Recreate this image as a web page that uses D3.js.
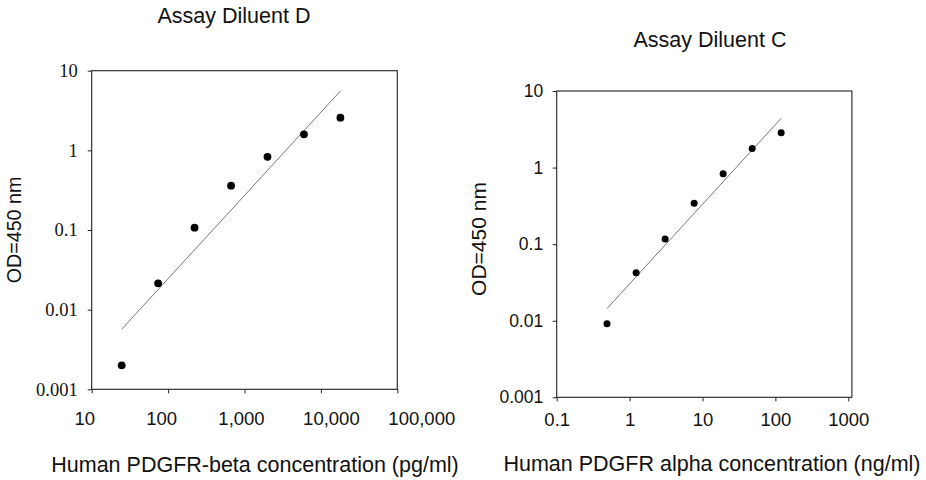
<!DOCTYPE html>
<html>
<head>
<meta charset="utf-8">
<script src="https://cdn.jsdelivr.net/npm/d3@7"></script>
<style>
  body { margin: 0; background: #fff; }
  svg { display: block; }
</style>
</head>
<body>
<div id="chart"></div>
<script>
// Two standard curves, log-log, with least-squares fit line

// Assay Diluent D (PDGFR-beta, pg/ml)
const dConc = [24.7, 74, 222, 667, 2000, 6000, 18000];
const dOD = [0.0020, 0.0214, 0.107, 0.36, 0.83, 1.59, 2.57];
const dConcTicks = [10, 100, 1000, 10000, 100000];

// Assay Diluent C (PDGFR alpha, ng/ml)
const cConc = [0.49, 1.23, 3.07, 7.68, 19.2, 48, 120];
const cOD = [0.0091, 0.0424, 0.117, 0.341, 0.83, 1.78, 2.85];
const cConcTicks = [0.1, 1, 10, 100, 1000];

const odTicks = [0.001, 0.01, 0.1, 1, 10];

const width = 926, height = 480;

const svg = d3.select('#chart').append('svg')
    .attr('width', width)
    .attr('height', height);

svg.append('rect')
    .attr('width', width)
    .attr('height', height)
    .attr('fill', '#fff');

const sans = 'Arial, "Liberation Sans", sans-serif';
const serif = '"Times New Roman", "Liberation Serif", serif';

function fitLogLog(xs, ys) {
    const lx = xs.map(Math.log10), ly = ys.map(Math.log10);
    const mx = d3.mean(lx), my = d3.mean(ly);
    const sxy = d3.sum(lx, (v, i) => (v - mx) * (ly[i] - my));
    const sxx = d3.sum(lx, v => (v - mx) * (v - mx));
    const slope = sxy / sxx;
    const x0 = d3.min(xs), x1 = d3.max(xs);
    return [x0, x1].map(x => [x, Math.pow(10, my + slope * (Math.log10(x) - mx))]);
}

function drawPanel(p) {
    const x = d3.scaleLog().domain(p.xDomain).range(p.xRange);
    const y = d3.scaleLog().domain([0.001, 10]).range(p.yRange);
    const g = svg.append('g');

    // frame
    g.append('rect')
        .attr('x', p.xRange[0])
        .attr('y', p.yRange[1])
        .attr('width', p.xRange[1] - p.xRange[0] + p.frameExtra)
        .attr('height', p.yRange[0] - p.yRange[1])
        .attr('fill', 'none')
        .attr('stroke', '#222')
        .attr('stroke-width', 1.1);

    // x axis
    const xAxis = g.append('g')
        .attr('transform', `translate(0,${p.yRange[0]})`)
        .call(d3.axisBottom(x)
            .tickValues(p.xTicks)
            .tickFormat(p.xFormat)
            .tickSize(4)
            .tickSizeOuter(0)
            .tickPadding(p.xPad));
    xAxis.select('.domain').remove();
    xAxis.selectAll('line').attr('stroke', '#222');
    xAxis.selectAll('text')
        .attr('font-family', sans)
        .attr('font-size', '18.5px')
        .attr('fill', '#111')
        .attr('dx', (d, i) => p.xLabelShift ? p.xLabelShift[i] : 0);

    // y axis
    const yAxis = g.append('g')
        .attr('transform', `translate(${p.xRange[0]},0)`)
        .call(d3.axisLeft(y)
            .tickValues(odTicks)
            .tickFormat(d => String(d))
            .tickSize(4)
            .tickSizeOuter(0)
            .tickPadding(p.yPad));
    yAxis.select('.domain').remove();
    yAxis.selectAll('line').attr('stroke', '#222');
    yAxis.selectAll('text')
        .attr('font-family', p.yFont)
        .attr('font-size', p.yFontSize)
        .attr('fill', '#111');

    // fit line
    const fit = fitLogLog(p.conc, p.od);
    g.append('path')
        .datum(fit)
        .attr('fill', 'none')
        .attr('stroke', '#777')
        .attr('stroke-width', 1)
        .attr('d', d3.line().x(d => x(d[0])).y(d => y(d[1])));

    // points
    g.selectAll('.pt')
        .data(p.conc.map((c, i) => [c, p.od[i]]))
        .enter().append('circle')
        .attr('class', 'pt')
        .attr('cx', d => x(d[0]))
        .attr('cy', d => y(d[1]))
        .attr('r', p.r)
        .attr('fill', '#000');

    // title
    g.append('text')
        .attr('x', p.title[1])
        .attr('y', p.title[2])
        .attr('text-anchor', 'middle')
        .attr('font-family', sans)
        .attr('font-size', '21.5px')
        .attr('fill', '#111')
        .text(p.title[0]);

    // x label
    g.append('text')
        .attr('x', p.xLabel[1])
        .attr('y', p.xLabel[2])
        .attr('text-anchor', 'middle')
        .attr('font-family', sans)
        .attr('font-size', '21.5px')
        .attr('fill', '#111')
        .text(p.xLabel[0]);

    // y label
    g.append('text')
        .attr('transform', `translate(${p.yLabel[0]},${p.yLabel[1]}) rotate(-90)`)
        .attr('text-anchor', 'middle')
        .attr('dy', '0.35em')
        .attr('font-family', sans)
        .attr('font-size', p.yLabel[2])
        .attr('fill', '#111')
        .text('OD=450 nm');
}

drawPanel({
    conc: dConc, od: dOD,
    xDomain: [10, 100000], xRange: [91.7, 397.3], yRange: [389.3, 70.7],
    frameExtra: 0,
    xTicks: dConcTicks, xFormat: d3.format(','), xPad: 19,
    xLabelShift: [-7.5, -7, -3.5, 10, 24],
    yFont: serif, yFontSize: '18.5px', yPad: 10,
    r: 3.9,
    title: ['Assay Diluent D', 234, 23],
    xLabel: ['Human PDGFR-beta concentration (pg/ml)', 255, 472],
    yLabel: [14, 230, '19.7px']
});

drawPanel({
    conc: cConc, od: cOD,
    xDomain: [0.1, 1000], xRange: [556.7, 848.3], yRange: [397.3, 91],
    frameExtra: 3.6,
    xTicks: cConcTicks, xFormat: d => String(d), xPad: 12,
    xLabelShift: null,
    yFont: sans, yFontSize: '17.5px', yPad: 9.5,
    r: 3.5,
    title: ['Assay Diluent C', 710, 47],
    xLabel: ['Human PDGFR alpha concentration (ng/ml)', 712, 471],
    yLabel: [479, 239, '21px']
});
</script>
</body>
</html>
